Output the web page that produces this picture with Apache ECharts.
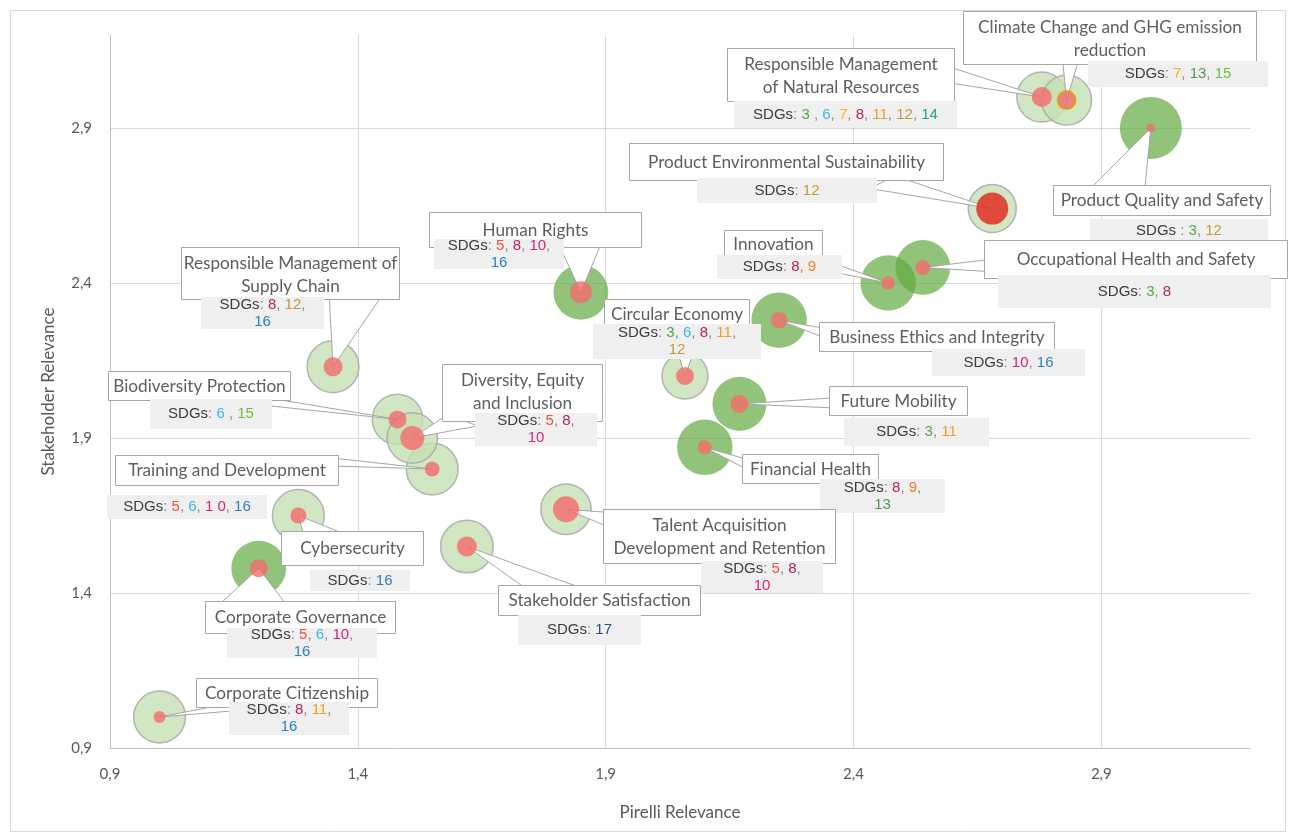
<!DOCTYPE html>
<html>
<head>
<meta charset="utf-8">
<script src="https://cdn.jsdelivr.net/npm/echarts@6/dist/echarts.min.js"></script>
<style>
html, body { margin: 0; padding: 0; background: #ffffff; }
#chart { width: 1290px; height: 838px; }
</style>
</head>
<body>
<div id="chart"></div>
<script>
// Material topics, in drawing order
const topics = [
  'Responsible Management of Natural Resources',
  'Climate Change and GHG emission reduction',
  'Product Quality and Safety',
  'Product Environmental Sustainability',
  'Innovation',
  'Occupational Health and Safety',
  'Business Ethics and Integrity',
  'Human Rights',
  'Circular Economy',
  'Future Mobility',
  'Financial Health',
  'Responsible Management of Supply Chain',
  'Biodiversity Protection',
  'Training and Development',
  'Diversity, Equity and Inclusion',
  'Cybersecurity',
  'Corporate Governance',
  'Talent Acquisition Development and Retention',
  'Stakeholder Satisfaction',
  'Corporate Citizenship'
];
const pirelliRelevance = [2.78, 2.83, 3.00, 2.68, 2.47, 2.54, 2.25, 1.85, 2.06, 2.17, 2.10, 1.35, 1.48, 1.55, 1.51, 1.28, 1.20, 1.82, 1.62, 1.00];
const stakeholderRelevance = [3.00, 2.99, 2.90, 2.64, 2.40, 2.45, 2.28, 2.37, 2.10, 2.01, 1.87, 2.13, 1.96, 1.80, 1.90, 1.65, 1.48, 1.67, 1.55, 1.00];
// Bubble sizes (area units, shared scale)
const outerSize = [65, 65, 100, 60, 80, 78, 80, 78, 55, 76, 80, 70, 66, 70, 66, 70, 78, 66, 72, 70];
const innerSize = [10.4, 8.4, 1.7, 26.6, 4.6, 5.9, 7.2, 12.6, 8.4, 8.4, 5.1, 9.4, 8.4, 5.9, 15.0, 6.7, 8.4, 17.6, 10.4, 3.7];
// Outer bubble group: 1 = dark, 2 = light
const bubbleGroup = [2, 2, 1, 2, 1, 1, 1, 1, 2, 1, 1, 2, 2, 2, 2, 2, 1, 2, 2, 2];
// SDGs linked to each topic
const sdgGoals = [
  ['3 ', '6', '7', '8', '11', '12', '14'],
  ['7', '13', '15'],
  ['3', '12'],
  ['12'],
  ['8', '9'],
  ['3', '8'],
  ['10', '16'],
  ['5', '8', '10', '16'],
  ['3', '6', '8', '11', '12'],
  ['3', '11'],
  ['8', '9', '13'],
  ['8', '12', '16'],
  ['6 ', '15'],
  ['5', '6', '1 0', '16'],
  ['5', '8', '10'],
  ['16'],
  ['5', '6', '10', '16'],
  ['5', '8', '10'],
  ['17'],
  ['8', '11', '16']
];
const xTicks = { min: 0.9, max: 3.2, step: 0.5 };
const yTicks = { min: 0.9, max: 3.2, step: 0.5 };

// ---- styling ----
const SDG_COLORS = {
  3: '#56a845', 5: '#f0523e', 6: '#3fb5e0', 7: '#f2b705', 8: '#b0284f', 9: '#f47b29',
  10: '#d6247a', 11: '#f39c24', 12: '#c9963a', 13: '#4f9a4e', 14: '#1fa57f',
  15: '#6cbf3c', 16: '#2f7fb8', 17: '#2a4f86'
};
const BUBBLE_STYLE = {
  1: { color: 'rgba(98,170,66,0.88)', borderWidth: 0 },
  2: { color: '#c5e0b4', borderColor: '#a4a4a4', borderWidth: 1.5 }
};
const DOT_STYLE = { color: '#f26b6b' };
const DOT_OVERRIDE = {
  'Product Environmental Sustainability': { color: '#e2231a' },
  'Climate Change and GHG emission reduction': { color: '#f26b6b', borderColor: '#d9a300', borderWidth: 2 }
};
const MAX_RADIUS = 31;
const MAX_SIZE = 100;
const bubbleDiameter = s => 2 * MAX_RADIUS * Math.sqrt(s / MAX_SIZE);

// Callout layout, pixel offsets from the bubble centre:
// title box [dx, dy, w, h], SDG box [dx, dy, w, h], wedge base [x1, y1, x2, y2],
// titleBreak = words on first title line, sdgBreak = goals on first SDG line
const callouts = [
  { title: [-315, -49, 227, 53], titleBreak: 2, sdg: [-308, 4, 223, 27], wedge: [-92, -30, -92, -14] },
  { title: [-104, -89, 293, 53], titleBreak: 5, sdg: [21, -39, 180, 26], wedge: [-4, -40, 12, -40] },
  { title: [-98, 57, 217, 30], sdg: [-61, 91, 178, 23], wedge: [-60, 60, -6, 60], prefix: 'SDGs ' },
  { title: [-363, -66, 314, 37], sdg: [-295, -31, 180, 25], wedge: [-98, -33, -122, -20] },
  { title: [-164, -53, 98, 28], sdg: [-171, -28, 125, 24], wedge: [-55, -20, -55, -11] },
  { title: [61, -28, 303, 38], sdg: [75, 7, 273, 33], wedge: [66, -8, 66, 4] },
  { title: [40, 2, 235, 29], sdg: [153, 29, 153, 27], wedge: [44, 8, 44, 17] },
  { title: [-152, -80, 212, 35], sdg: [-147, -53, 130, 30], sdgBreak: 3, wedge: [-22, -48, 20, -48] },
  { title: [-81, -77, 145, 30], sdg: [-92, -52, 168, 35], sdgBreak: 4, wedge: [-9, -30, 11, -30] },
  { title: [90, -18, 138, 29], sdg: [105, 14, 145, 28], wedge: [94, -6, 94, 4] },
  { title: [37, 7, 136, 29], sdg: [115, 32, 125, 34], sdgBreak: 2, wedge: [42, 12, 42, 22] },
  { title: [-152, -120, 218, 52], titleBreak: 3, sdg: [-132, -70, 123, 32], sdgBreak: 2, wedge: [-4, -74, 51, -74] },
  { title: [-289, -48, 182, 29], sdg: [-247, -20, 122, 30], wedge: [-132, -22, -132, -14] },
  { title: [-317, -14, 223, 30], sdg: [-325, 26, 160, 24], wedge: [-100, -11, -100, -3] },
  { title: [30, -74, 160, 57], titleBreak: 2, sdg: [63, -25, 122, 33], sdgBreak: 2, wedge: [36, -24, 65, -12] },
  { title: [-17, 15, 142, 34], sdg: [12, 54, 100, 21], wedge: [5, 18, 45, 18] },
  { title: [-54, 33, 190, 32], sdg: [-32, 60, 150, 30], sdgBreak: 3, wedge: [-40, 37, 28, 37] },
  { title: [37, 0, 232, 54], titleBreak: 2, sdg: [135, 52, 122, 32], sdgBreak: 2, wedge: [41, 3, 41, 17] },
  { title: [31, 38, 202, 30], sdg: [51, 68, 123, 30], wedge: [59, 42, 116, 42] },
  { title: [36, -39, 181, 29], sdg: [69, -15, 120, 33], sdgBreak: 2, wedge: [72, -14, 72, -6] }
];

const TITLE_FONT = 'Lato';
const TITLE_SIZE = 17.2;
const SDG_FONT = 'Liberation Sans';
const SDG_SIZE = 15;
const sdgRich = {
  k: { fill: '#3d3d3d', fontFamily: SDG_FONT, fontSize: SDG_SIZE, align: 'center' },
  p: { fill: '#8a8a8a', fontFamily: SDG_FONT, fontSize: SDG_SIZE, align: 'center' }
};
Object.keys(SDG_COLORS).forEach(n => {
  sdgRich['n' + n] = { fill: SDG_COLORS[n], fontFamily: SDG_FONT, fontSize: SDG_SIZE, align: 'center' };
});

function titleText(i) {
  const words = topics[i].split(' ');
  const brk = callouts[i].titleBreak;
  if (!brk) return topics[i];
  return words.slice(0, brk).join(' ') + '\n' + words.slice(brk).join(' ');
}

function sdgText(i) {
  const goals = sdgGoals[i];
  const brk = callouts[i].sdgBreak || 0;
  let s = '{k|' + (callouts[i].prefix || 'SDGs') + '}{p|: }';
  goals.forEach((g, j) => {
    const num = parseInt(g.replace(/\s/g, ''), 10);
    s += '{n' + num + '|' + g + '}';
    if (j < goals.length - 1) {
      s += '{p|,}';
      s += (brk && j === brk - 1) ? '\n' : '{p| }';
    }
  });
  return s;
}

function renderCallout(params, api) {
  const i = api.value(2);
  const c = callouts[i];
  const p = api.coord([api.value(0), api.value(1)]);
  const tx = Math.round(p[0] + c.title[0]) + 0.5;
  const ty = Math.round(p[1] + c.title[1]) + 0.5;
  const tw = c.title[2], th = c.title[3];
  const sx = Math.round(p[0] + c.sdg[0]);
  const sy = Math.round(p[1] + c.sdg[1]);
  const sw = c.sdg[2], sh = c.sdg[3];
  const w = c.wedge;
  const multi = !!c.titleBreak;
  return {
    type: 'group',
    children: [
      {
        type: 'polygon',
        shape: { points: [[p[0] + w[0], p[1] + w[1]], [p[0] + w[2], p[1] + w[3]], [p[0], p[1]]] },
        style: { fill: '#ffffff', stroke: '#a6a6a6', lineWidth: 1 }
      },
      {
        type: 'rect',
        shape: { x: tx, y: ty, width: tw, height: th },
        style: { fill: '#ffffff', stroke: '#a6a6a6', lineWidth: 1 }
      },
      {
        type: 'text',
        style: {
          text: titleText(i),
          x: tx + tw / 2,
          y: multi ? ty + 4 : ty + th / 2,
          align: 'center',
          verticalAlign: multi ? 'top' : 'middle',
          fill: '#5e5e5e',
          fontFamily: TITLE_FONT,
          fontSize: TITLE_SIZE,
          lineHeight: 23
        }
      },
      {
        type: 'rect',
        shape: { x: sx, y: sy, width: sw, height: sh },
        style: { fill: '#efefef' }
      },
      {
        type: 'text',
        style: {
          text: sdgText(i),
          rich: sdgRich,
          x: sx + sw / 2,
          y: sy + sh / 2,
          align: 'center',
          verticalAlign: 'middle',
          fill: '#3d3d3d',
          fontFamily: SDG_FONT,
          fontSize: SDG_SIZE,
          lineHeight: 17
        }
      }
    ]
  };
}

const tickFormatter = v => v.toFixed(1).replace('.', ',');
const axisText = { color: '#595959', fontFamily: TITLE_FONT, fontSize: 15 };

const chart = echarts.init(document.getElementById('chart'), null, { renderer: 'canvas' });
chart.setOption({
  animation: false,
  backgroundColor: '#ffffff',
  graphic: [{
    type: 'rect',
    shape: { x: 10.5, y: 10.5, width: 1275, height: 821 },
    style: { fill: 'none', stroke: '#d9d9d9', lineWidth: 1 },
    z: -10,
    silent: true
  }],
  grid: { left: 110, right: 40, top: 35, bottom: 90, containLabel: false, outerBoundsMode: 'none' },
  xAxis: {
    type: 'value',
    min: xTicks.min, max: xTicks.max, interval: xTicks.step,
    name: 'Pirelli Relevance', nameLocation: 'middle', nameGap: 56,
    nameTextStyle: { color: '#595959', fontFamily: TITLE_FONT, fontSize: 17 },
    axisLine: { show: true, lineStyle: { color: '#bfbfbf', width: 1 } },
    axisTick: { show: false },
    axisLabel: Object.assign({ formatter: tickFormatter, margin: 19, showMaxLabel: false }, axisText),
    splitLine: { show: true, showMinLine: false, showMaxLine: false, lineStyle: { color: '#d9d9d9', width: 1 } }
  },
  yAxis: {
    type: 'value',
    min: yTicks.min, max: yTicks.max, interval: yTicks.step,
    name: 'Stakeholder Relevance', nameLocation: 'middle', nameGap: 53,
    nameTextStyle: { color: '#595959', fontFamily: TITLE_FONT, fontSize: 17 },
    axisLine: { show: true, lineStyle: { color: '#bfbfbf', width: 1 } },
    axisTick: { show: false },
    axisLabel: Object.assign({ formatter: tickFormatter, margin: 18, showMaxLabel: false }, axisText),
    splitLine: { show: true, showMinLine: false, showMaxLine: false, lineStyle: { color: '#d9d9d9', width: 1 } }
  },
  series: [
    {
      name: 'Relevance',
      type: 'scatter',
      z: 2,
      silent: true,
      symbol: 'circle',
      symbolSize: v => bubbleDiameter(v[2]),
      data: topics.map((t, i) => ({
        name: t,
        value: [pirelliRelevance[i], stakeholderRelevance[i], outerSize[i]],
        itemStyle: BUBBLE_STYLE[bubbleGroup[i]]
      }))
    },
    {
      name: 'Callouts',
      type: 'custom',
      z: 3,
      silent: true,
      clip: false,
      coordinateSystem: 'cartesian2d',
      encode: { x: 0, y: 1 },
      renderItem: renderCallout,
      data: topics.map((t, i) => [pirelliRelevance[i], stakeholderRelevance[i], i])
    },
    {
      name: 'Impact',
      type: 'scatter',
      z: 4,
      silent: true,
      symbol: 'circle',
      symbolSize: v => bubbleDiameter(v[2]),
      data: topics.map((t, i) => ({
        name: t,
        value: [pirelliRelevance[i], stakeholderRelevance[i], innerSize[i]],
        itemStyle: Object.assign({}, DOT_STYLE, DOT_OVERRIDE[t] || {})
      }))
    }
  ]
});
</script>
</body>
</html>
